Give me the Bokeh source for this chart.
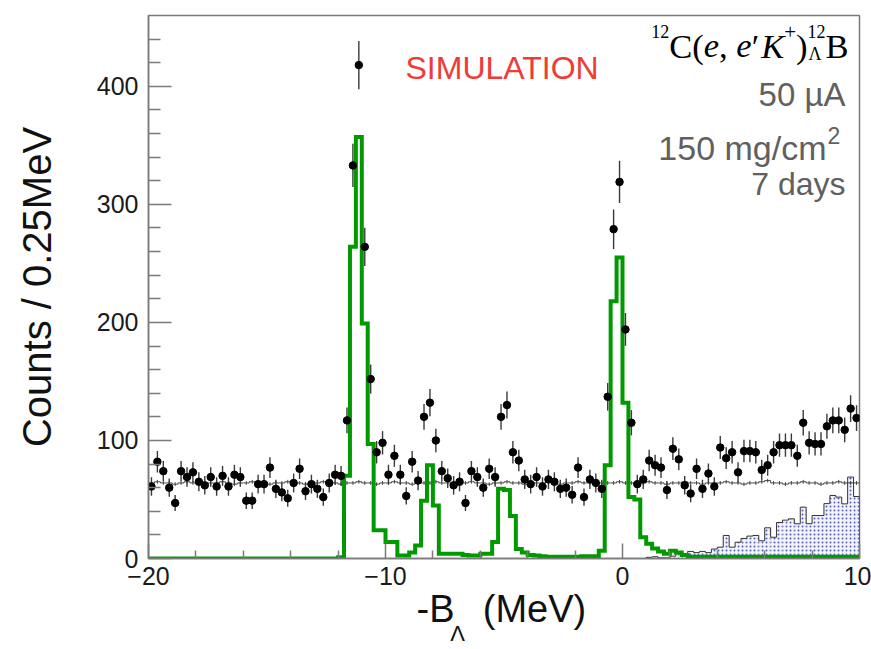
import numpy as np
from bokeh.plotting import figure
from bokeh.models import FixedTicker, Label, LinearAxis
from bokeh.embed import file_html
from bokeh.resources import INLINE

# ---------------- data ----------------
x_start = -20.0
bin_width = 0.25

# measured counts (black points), 120 bins of 0.25 MeV from -20 to 10
data_counts = [61, 82, 74, 60, 47, 74, 69, 73, 65, 62,
               69, 61, 70, 61, 71, 69, 49, 49, 63, 63,
               77, 59, 56, 51, 64, 76, 57, 63, 59, 52,
               64, 71, 70, 117, 333, 418, 264, 152, 90, 98,
               71, 87, 71, 53, 82, 66, 120, 132, 100, 74,
               68, 62, 65, 47, 74, 69, 60, 76, 69, 120,
               130, 90, 83, 67, 63, 69, 61, 67, 65, 59,
               60, 54, 77, 52, 67, 64, 59, 137, 279, 319,
               194, 115, 63, 67, 83, 79, 77, 58, 93, 84,
               62, 55, 76, 59, 72, 61, 94, 85, 90, 73,
               91, 91, 90, 75, 79, 90, 96, 96, 96, 87,
               115, 98, 97, 97, 112, 117, 117, 109, 127, 119]

# simulated signal (green histogram)
signal = [0, 0, 0, 0, 0, 0, 0, 0, 0, 0,
          0, 0, 0, 0, 0, 0, 0, 0, 0, 0,
          0, 0, 0, 0, 0, 0, 0, 0, 0, 0,
          0, 0, 1, 70, 264, 357, 199, 97, 24, 24,
          14, 14, 2.5, 2.5, 5, 11, 49, 79, 45, 4,
          4, 4, 4, 3, 2.5, 2.5, 4, 4, 14, 59,
          58, 36, 8, 5, 3, 2.5, 2, 1.5, 1.5, 1.5,
          1.5, 1.5, 1.5, 2, 2, 2, 6.5, 79, 218, 255,
          132, 52, 50, 18, 12.5, 8.5, 6, 4, 6.5, 5,
          3, 1.5, 1.5, 1.5, 1.5, 1.5, 1.5, 1.5, 1.5, 1.5,
          1.5, 1.5, 1.5, 1.5, 1.5, 1.5, 1.5, 1.5, 1.5, 1.5,
          1.5, 1.5, 1.5, 1.5, 1.5, 1.5, 1.5, 1.5, 1.5, 1.5]

# accidental background (flat, thin black)
accidental = [64, 65, 64, 64, 63, 64, 65, 64, 64, 63,
              64, 64, 65, 64, 63, 64, 64, 65, 64, 64,
              63, 64, 64, 65, 64, 64, 63, 64, 64, 65,
              64, 64, 63, 64, 64, 65, 64, 64, 63, 64,
              64, 65, 64, 64, 63, 64, 64, 64, 65, 64,
              64, 63, 64, 64, 65, 64, 64, 63, 64, 64,
              65, 64, 64, 63, 64, 64, 64, 65, 64, 63,
              64, 64, 65, 64, 64, 63, 64, 64, 64, 65,
              64, 64, 63, 64, 65, 64, 64, 63, 64, 64,
              65, 64, 64, 63, 64, 64, 64, 65, 64, 64,
              63, 64, 64, 65, 66, 64, 64, 63, 64, 64,
              65, 64, 64, 63, 64, 64, 65, 64, 64, 64]

# other contribution (dotted blue), 40 bins from 0 to 10 MeV
qf_start = 0.0
qf_counts = [0, 0, 0, 0, 1, 1.5, 0.5, 0.5, 2, 4,
             3, 6, 5, 6, 5, 8, 9.6, 19.5, 9.6, 13.8,
             17, 19, 19.5, 15, 26, 18, 30.5, 32.5, 33.6, 29.4,
             43.5, 29.5, 36.4, 36.4, 46.5, 53.4, 52, 46.3, 69, 52.5]

x_major = [-20, -10, 0, 10]
x_minor = [-18, -16, -14, -12, -8, -6, -4, -2, 2, 4, 6, 8]
x_tick_text = ["\u221220", "\u221210", "0", "10"]
y_major = [0, 100, 200, 300, 400]
y_minor = [20, 40, 60, 80, 120, 140, 160, 180, 220, 240, 260, 280,
           320, 340, 360, 380, 420, 440]

# ---------------- derived ----------------
n = len(data_counts)
edges = x_start + bin_width * np.arange(n + 1)
centers = 0.5 * (edges[:-1] + edges[1:])
dc = np.array(data_counts, dtype=float)
err = np.sqrt(dc)


def step_xy(e, v):
    xs = np.concatenate([[e[0]], np.repeat(e, 2)[1:-1], [e[-1]]])
    ys = np.concatenate([[0.0], np.repeat(np.asarray(v, float), 2), [0.0]])
    return xs, ys


qf_edges = qf_start + bin_width * np.arange(len(qf_counts) + 1)

# ---------------- figure ----------------
W, H = 871, 649
FL, FR, FT, FB = 148, 859, 15, 558  # frame edges in page pixels
p = figure(width=W, height=H, x_range=(-20, 10), y_range=(0, 460),
           output_backend="svg", toolbar_location=None, title=None,
           min_border_left=FL, min_border_right=W - FR, min_border_top=FT,
           min_border_bottom=H - FB)
p.xgrid.visible = False
p.ygrid.visible = False
p.background_fill_color = "white"
p.border_fill_color = "white"
p.outline_line_color = "#7a7a7a"
p.outline_line_width = 1.5

axcol = "#7a7a7a"
for ax in (p.xaxis[0], p.yaxis[0]):
    ax.axis_line_color = axcol
    ax.axis_line_width = 1.5
    ax.major_tick_line_color = axcol
    ax.minor_tick_line_color = axcol
    ax.major_tick_line_width = 1.5
    ax.minor_tick_line_width = 1.5
    ax.major_tick_out = 0
    ax.minor_tick_out = 0
    ax.major_label_text_font = "Liberation Sans"
    ax.major_label_text_font_size = "25px"
    ax.major_label_text_color = "#1a1a1a"

p.xaxis.ticker = FixedTicker(ticks=x_major, minor_ticks=x_minor)
p.xaxis.major_label_overrides = {t: s for t, s in zip(x_major, x_tick_text)}
p.xaxis.major_tick_in = 15
p.xaxis.minor_tick_in = 8
p.xaxis.major_label_standoff = 8

p.yaxis.ticker = FixedTicker(ticks=y_major, minor_ticks=y_minor)
p.yaxis.major_tick_in = 23
p.yaxis.minor_tick_in = 12
p.yaxis.major_label_standoff = 10
p.yaxis.axis_label = "Counts / 0.25MeV"
p.yaxis.axis_label_text_font = "Liberation Sans"
p.yaxis.axis_label_text_font_size = "40px"
p.yaxis.axis_label_text_font_style = "normal"
p.yaxis.axis_label_text_color = "#111111"
p.yaxis.axis_label_standoff = 35


def px_to_x(X):
    return round(-20 + (X - FL) * 30.0 / (FR - FL), 3)


def text_axis(items, size, standoff):
    ticks = [px_to_x(X) for X, _ in items]
    ax = LinearAxis(ticker=FixedTicker(ticks=ticks, minor_ticks=[]),
                    major_label_overrides={t: s for t, (_, s) in zip(ticks, items)},
                    axis_line_color=None, major_tick_line_color=None,
                    minor_tick_line_color=None, major_tick_in=0, major_tick_out=0,
                    minor_tick_in=0, minor_tick_out=0,
                    major_label_standoff=standoff,
                    major_label_text_font="Liberation Sans",
                    major_label_text_font_size=size,
                    major_label_text_color="#111111")
    p.add_layout(ax, "below")


# x title "-B_Lambda (MeV)" built from two text rows
text_axis([(435, "-B"), (534, "(MeV)")], "38px", 0)
text_axis([(457, "\u039b")], "22px", -12)

# dotted blue histogram
p.quad(left=qf_edges[:-1], right=qf_edges[1:], top=qf_counts, bottom=0,
       fill_color="#f1f2fb", line_color=None, hatch_pattern="dot",
       hatch_color="#5560b0", hatch_scale=4, hatch_weight=1)
qx, qy = step_xy(qf_edges, qf_counts)
p.line(qx, qy, line_color="#333333", line_width=1)

# accidental background
ax_, ay_ = step_xy(edges, accidental)
p.line(ax_[1:-1], ay_[1:-1], line_color="#333333", line_width=1, line_alpha=0.9)
acc = np.array(accidental, float)
p.segment(x0=centers, y0=acc - 1.6, x1=centers, y1=acc + 1.6,
          line_color="#444444", line_width=1)

# green simulation histogram
gx, gy = step_xy(edges, signal)
p.line(gx, gy, line_color="#009a00", line_width=4, line_join="miter")

# data points with sqrt(N) errors
p.segment(x0=centers, y0=dc - err, x1=centers, y1=dc + err,
          line_color="#3a3a3a", line_width=1.4)
p.scatter(centers, dc, size=7.5, color="black")

# ---------------- texts inside the frame ----------------
BASE_FIX = 12  # renderer places the alphabetic baseline this much lower


def page_label(X, Y, text, **kw):
    kw.setdefault("text_baseline", "alphabetic")
    p.add_layout(Label(x=X - FL, y=FB - (Y - BASE_FIX), x_units="screen",
                       y_units="screen", text=text, **kw))


page_label(405, 79, "SIMULATION", text_font="Liberation Sans",
           text_font_size="32px", text_color="#ef3b36")

grey = "#606060"
page_label(845, 106, "50 \u00b5A", text_align="right", text_font="Liberation Sans",
           text_font_size="33px", text_color=grey)
page_label(826, 159, "150 mg/cm", text_align="right", text_font="Liberation Sans",
           text_font_size="34px", text_color=grey)
page_label(827, 147, "2", text_font="Liberation Sans", text_font_size="23px",
           text_color=grey)
page_label(845, 195, "7 days", text_align="right", text_font="Liberation Sans",
           text_font_size="32px", text_color=grey)

# reaction formula  12C(e,e'K+)12_Lambda B
F, S = 34.5, 18
pieces = [("12", S, "normal", -14, 1.0),
          ("C(", F, "normal", 0, 1.0),
          ("e", F, "italic", 0, 0.444),
          (", ", F, "normal", 0, 0.5),
          ("e", F, "italic", 0, 0.444),
          ("\u2032", F, "normal", 0, 0.275),
          ("K", F, "italic", 0, 0.667),
          ("+", 21, "normal", -14, 0.564),
          (")", F, "normal", 0, 0.333),
          ("12", S, "normal", -14, 1.0),
          ("B", F, "normal", 0, 0.667)]
total = sum(sz * w for _, sz, _, _, w in pieces)
cx = 848 - total
base = 57
for k, (txt, sz, style, dy, w) in enumerate(pieces):
    if k == 9:
        page_label(cx + 1, base + 8, "\u039b", text_font="Liberation Serif",
                   text_font_size="%gpx" % S, text_color="black")
    page_label(cx, base + dy, txt, text_font="Liberation Serif",
               text_font_size="%gpx" % sz, text_font_style=style, text_color="black")
    cx += sz * w

open("out.html", "w").write(file_html(p, INLINE))
